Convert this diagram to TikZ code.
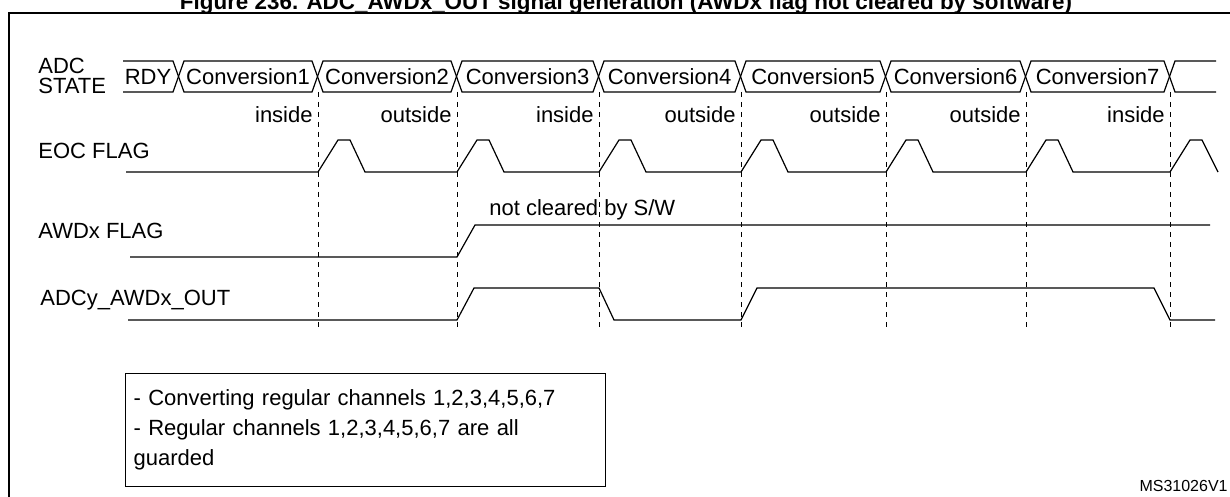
\documentclass[tikz,border=0pt]{standalone}
\usepackage{fontspec}
\setmainfont{Liberation Sans}
\usetikzlibrary{positioning}
\tikzstyle{sig} = [line width=0.6pt, black]
\tikzstyle{guide} = [dashed, line width=0.4pt, dash pattern=on 2.5pt off 2.5pt]
\tikzstyle{lbl} = [inner sep=0pt, font=\fontsize{11}{12}\selectfont]
\tikzstyle{zone} = [lbl, anchor=east]

\begin{document}
\begin{tikzpicture}[x=0.5pt, y=-0.5pt]
\useasboundingbox (0,0) rectangle (1230,497);

% frame and title
\draw[line width=1pt] (9,497) -- (9,13) -- (1230,13);
\node(title)[lbl, font=\bfseries\fontsize{11.2}{12}\selectfont, anchor=base] at (626,10)
  {Figure 236. ADC\_AWDx\_OUT signal generation (AWDx flag not cleared by software)};

% signal names
\node(state)[lbl, anchor=west, align=left, font=\fontsize{11}{10}\selectfont] at (38,76) {ADC\\STATE};
\node(eoc)[lbl, anchor=west] at (38,151) {EOC FLAG};
\node(awd)[lbl, anchor=west] at (38,231) {AWDx FLAG};
\node(out)[lbl, anchor=west] at (40,300) {ADCy\_AWDx\_OUT};

% ADC state bus
\draw[sig] (123,61) -- (173,61) -- (184,92) -- (312,92) -- (323,61) -- (451,61) -- (462,92) -- (593,92) -- (604,61) -- (735,61) -- (746,92) -- (880,92) -- (891,61) -- (1020,61) -- (1031,92) -- (1164,92) -- (1175,61) -- (1216,61);
\draw[sig] (123,92) -- (173,92) -- (184,61) -- (312,61) -- (323,92) -- (451,92) -- (462,61) -- (593,61) -- (604,92) -- (735,92) -- (746,61) -- (880,61) -- (891,92) -- (1020,92) -- (1031,61) -- (1164,61) -- (1175,92) -- (1216,92);
\node(rdy)[lbl] at (148,77) {RDY};
\foreach \i/\a/\b in {1/184/312, 2/323/451, 3/462/593, 4/604/735, 5/746/880, 6/891/1020, 7/1031/1164}
  \node(conv\i)[lbl] at ({(\a+\b)/2},77) {Conversion\i};

% end of conversion guides
\foreach \d/\z [count=\k] in {318/inside, 457/outside, 599/inside, 741/outside, 886/outside, 1026/outside, 1170/inside} {
  \draw[guide] (\d,92) -- (\d,328);
  \node(zone\k)[zone] at (\d-5,115) {\z};
}

% EOC flag
\draw[sig] (126,172) \foreach \d in {318,457,599,741,886,1026} { -- (\d,172) -- (\d+20,140) -- (\d+32,140) -- (\d+47,172) }
  -- (1170,172) -- (1190,140) -- (1202,140) -- (1218,172);

% AWDx flag
\draw[sig] (130,257) -- (457,257) -- (475,225) -- (1210,225);
\node(keep)[lbl, anchor=west] at (489,210) {not cleared by S/W};

% ADCy_AWDx_OUT
\draw[sig] (128,320) -- (457,320) -- (474,288) -- (599,288) -- (614,320) -- (741,320) -- (757,288) -- (1154,288) -- (1170,320) -- (1215,320);

% legend
\node(note)[lbl, draw, line width=0.6pt, anchor=north west, align=left, text width=232pt, inner xsep=4pt, inner ysep=8pt, font=\fontsize{11}{15}\selectfont] at (125,373)
  {- Converting regular channels 1,2,3,4,5,6,7\\- Regular channels 1,2,3,4,5,6,7 are all guarded};
\node(ref)[lbl, anchor=east, font=\fontsize{8}{9}\selectfont] at (1228,486) {MS31026V1};
\end{tikzpicture}
\end{document}
